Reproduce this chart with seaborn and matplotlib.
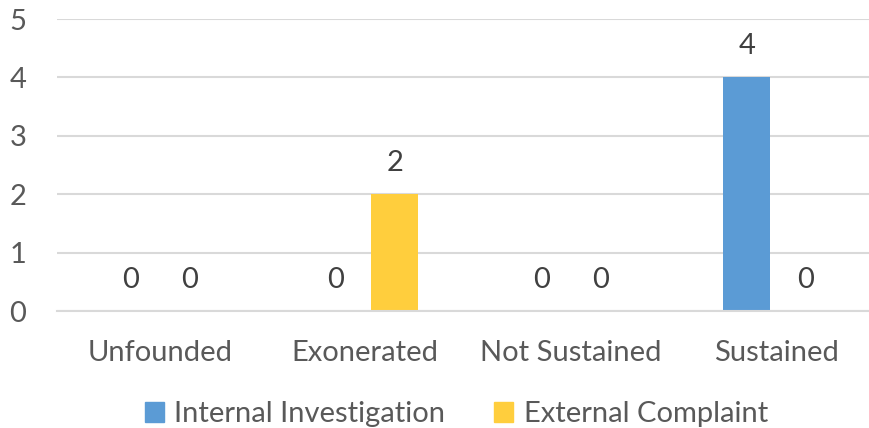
import matplotlib
matplotlib.use("Agg")
import matplotlib.pyplot as plt
import seaborn as sns
import pandas as pd

# Chart data
outcomes = ["Unfounded", "Exonerated", "Not Sustained", "Sustained"]
internal_counts = [0, 0, 0, 4]
external_counts = [0, 2, 0, 0]
series_names = ["Internal Investigation", "External Complaint"]
colors = ["#5B9BD5", "#FFCE3D"]

# Long form table for seaborn
df = pd.DataFrame({
    "Outcome": outcomes * 2,
    "Count": internal_counts + external_counts,
    "Source": [series_names[0]] * len(outcomes) + [series_names[1]] * len(outcomes),
})

sns.set_style("white")
plt.rcParams["font.family"] = ["Lato", "DejaVu Sans"]

text_grey = "#595959"
label_grey = "#404040"
grid_grey = "#D9D9D9"
fsize = 21

fig = plt.figure(figsize=(8.69, 4.28), dpi=100)
ax = fig.add_axes([57 / 869, 1 - 311 / 428, 822 / 869, (311 - 19) / 428])

sns.barplot(
    data=df, x="Outcome", y="Count", hue="Source",
    palette=colors, width=0.574, gap=0.2, ax=ax, legend=False,
    saturation=1, linewidth=0,
)

# Value labels above bars
for cont in ax.containers:
    ax.bar_label(cont, fmt="%d", padding=13, fontsize=fsize, color=label_grey)

ax.set_ylim(0, 5)
ax.set_xlim(-0.5, len(outcomes) - 0.5)
ax.set_yticks(range(0, 6))
ax.yaxis.grid(True, color=grid_grey, linewidth=1.5)
ax.set_axisbelow(True)

for side in ["left", "right", "top"]:
    ax.spines[side].set_visible(False)
ax.spines["bottom"].set_color(grid_grey)
ax.spines["bottom"].set_linewidth(1.5)

# Ticks between the categories like Excel
ax.set_xticks([i - 0.5 for i in range(len(outcomes) + 1)], minor=True)
ax.tick_params(axis="x", which="minor", length=10, width=1.5, color=grid_grey)
ax.tick_params(axis="x", which="major", length=0, pad=21, labelsize=fsize, labelcolor=text_grey)
ax.tick_params(axis="y", length=0, pad=22, labelsize=fsize, labelcolor=text_grey)
ax.set_xlabel("")
ax.set_ylabel("")

handles = [plt.Rectangle((0, 0), 1, 1, color=c) for c in colors]
fig.legend(
    handles, series_names, loc="lower center", bbox_to_anchor=(0.525, -0.06),
    ncol=2, frameon=False, fontsize=fsize, labelcolor=text_grey,
    handlelength=0.65, handleheight=0.65, handletextpad=0.35, columnspacing=1.7,
)

fig.savefig("out.png", dpi=100)
